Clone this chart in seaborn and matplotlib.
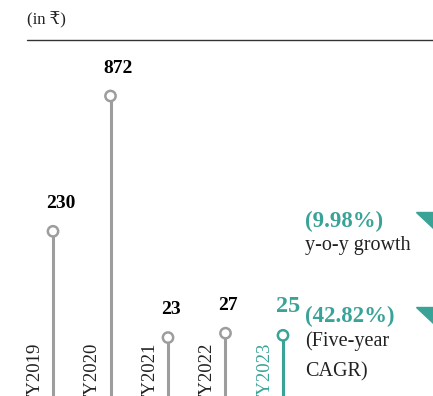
import matplotlib
matplotlib.use("Agg")
import matplotlib.pyplot as plt
import seaborn as sns
import numpy as np
import pandas as pd
from matplotlib.lines import Line2D

years = ["FY2019", "FY2020", "FY2021", "FY2022", "FY2023"]
values = [230, 872, 23, 27, 25]
yoy_growth = "(9.98%)"
cagr = "(42.82%)"

TEAL = "#3aa397"
GRAY = "#9d9d9d"
SERIF = ["Liberation Serif", "DejaVu Serif", "DejaVu Sans"]

sns.set_theme(style="white")
plt.rcParams["font.family"] = SERIF

df = pd.DataFrame({"year": years, "value": values, "pos": range(len(years))})
df["latest"] = df["pos"] == df["pos"].max()

W, H = 433, 396
fig = plt.figure(figsize=(W / 100, H / 100), dpi=100)
ax = fig.add_axes([0, 0, 1, 1])
ax.set_facecolor("none")

# compressed value scale so the small years stay visible
p = 0.45
ax.set_yscale("function", functions=(lambda v: np.power(np.clip(v, 0, None), p),
                                     lambda v: np.power(np.clip(v, 0, None), 1 / p)))
top = (max(values) ** p * H / 300) ** (1 / p)
ax.set_ylim(0, top)
ax.set_xlim(-53 / 57.5, (W - 53) / 57.5)

colors = [TEAL if l else GRAY for l in df["latest"]]
ax.vlines(df["pos"], 0, df["value"], colors=colors, lw=2.2, zorder=1)
sns.scatterplot(data=df, x="pos", y="value", hue="latest",
                palette={False: GRAY, True: TEAL},
                s=55, linewidth=1.8, legend=False, ax=ax, zorder=3)
# open markers: edge colored, white fill
for coll in ax.collections[1:]:
    coll.set_edgecolors(coll.get_facecolors())
    coll.set_facecolors("white")

for _, r in df.iterrows():
    latest = r["latest"]
    ax.annotate(f"{r['value']}", (r["pos"], r["value"]),
                xytext=(-5, 21 if latest else 20), textcoords="offset points",
                ha="left", va="center", fontweight="bold",
                fontsize=17.5 if latest else 14,
                color=TEAL if latest else "black")
    ax.annotate(r["year"], (r["pos"], 0), xytext=(-13, 38.5),
                textcoords="offset points", ha="center", va="top",
                rotation=90, fontsize=13.5,
                color=TEAL if latest else "#222222")

ax.set_xticks([])
ax.set_yticks([])
sns.despine(ax=ax, left=True, bottom=True)

# header
fig.text(27 / W, 1 - 20 / H, "(in ₹)", fontsize=12, va="center", ha="left",
         color="#222222")
fig.add_artist(Line2D([27 / W, 1], [1 - 40 / H] * 2, color="#333333", lw=1))

# growth callouts
fig.text(305 / W, 1 - 221 / H, yoy_growth, fontsize=16.5, fontweight="bold",
         color=TEAL, va="center")
fig.text(305 / W, 1 - 245 / H, "y-o-y growth", fontsize=14.5, color="#222222",
         va="center")
fig.text(305 / W, 1 - 316 / H, cagr, fontsize=16.5, fontweight="bold",
         color=TEAL, va="center")
fig.text(305 / W, 1 - 341 / H, "(Five-year", fontsize=14.5, color="#222222",
         va="center")
fig.text(305 / W, 1 - 372 / H, "CAGR)", fontsize=14.5, color="#222222",
         va="center")
for yy in (212, 307):
    fig.add_artist(plt.Polygon([[416 / W, 1 - yy / H], [1, 1 - yy / H],
                                [1, 1 - (yy + 16) / H]],
                               closed=True, color=TEAL, transform=fig.transFigure))

fig.savefig("out.png", dpi=100)
